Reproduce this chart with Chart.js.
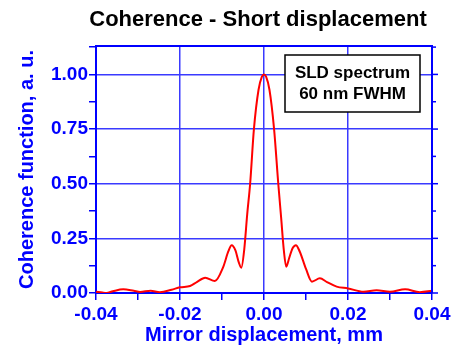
<!DOCTYPE html>
<html>
<head>
<meta charset="utf-8">
<script src="https://cdn.jsdelivr.net/npm/chart.js@4"></script>
<style>
  body { margin: 0; background: #fff; }
  #wrap { width: 464px; height: 345px; }
</style>
</head>
<body>
<div id="wrap"><canvas id="cohChart" width="464" height="345"></canvas></div>
<script>
// mirror displacement (mm) and coherence (a. u.)
const displacement = [
  -0.040, -0.0385, -0.0375, -0.036, -0.0335, -0.031, -0.0295, -0.027, -0.0248, -0.022,
  -0.020, -0.0176, -0.016, -0.014, -0.0117, -0.0097, -0.0085, -0.0077, -0.0068, -0.0060,
  -0.0054, -0.0047, -0.0040, -0.0033, -0.0024, -0.0013, -0.0005, 0.0, 0.0005, 0.0013,
  0.0024, 0.0034, 0.0041, 0.0047, 0.0053, 0.0060, 0.0068, 0.0076, 0.0085, 0.0100,
  0.0114, 0.0133, 0.0150, 0.0173, 0.0200, 0.0237, 0.0268, 0.0300, 0.0336, 0.0371, 0.0400
];
const coherence = [
  0.006, 0.002, 0.000, 0.008, 0.017, 0.010, 0.005, 0.010, 0.004, 0.015,
  0.026, 0.032, 0.050, 0.070, 0.055, 0.120, 0.190, 0.219, 0.195, 0.140,
  0.116, 0.200, 0.360, 0.500, 0.750, 0.930, 0.990, 1.000, 0.990, 0.930,
  0.750, 0.500, 0.340, 0.200, 0.120, 0.160, 0.205, 0.219, 0.190, 0.110,
  0.052, 0.067, 0.050, 0.029, 0.021, 0.006, 0.013, 0.006, 0.017, 0.004, 0.010
];
const chartTitle = 'Coherence - Short displacement';
const boxLines = ['SLD spectrum', '60 nm FWHM'];

const BLUE = '#0000ff';
const GRID = '#3a3aff';

const points = displacement.map((x, i) => ({ x: x, y: coherence[i] }));

const isMinorX = v => Math.abs(v * 50 - Math.round(v * 50)) > 1e-6;
const isMinorY = v => Math.abs(v * 4 - Math.round(v * 4)) > 1e-6;

// title, frame top/right and the text box
const extras = {
  id: 'extras',
  afterDraw(chart) {
    const { ctx, chartArea: a, scales } = chart;
    ctx.save();
    // frame
    ctx.strokeStyle = BLUE;
    ctx.lineWidth = 2;
    ctx.beginPath();
    ctx.moveTo(a.left, a.top);
    ctx.lineTo(a.right, a.top);
    ctx.lineTo(a.right, a.bottom);
    ctx.stroke();
    // small ticks on right side
    ctx.lineWidth = 1.5;
    scales.y.ticks.forEach(t => {
      const py = scales.y.getPixelForValue(t.value);
      ctx.beginPath();
      ctx.moveTo(a.right, py);
      ctx.lineTo(a.right + (isMinorY(t.value) ? 4 : 6), py);
      ctx.stroke();
    });
    // title
    ctx.fillStyle = '#000';
    ctx.font = 'bold 22px "Liberation Sans", Arial, sans-serif';
    ctx.textAlign = 'center';
    ctx.textBaseline = 'middle';
    ctx.fillText(chartTitle, 258, 20);
    // text box
    ctx.fillStyle = '#fff';
    ctx.fillRect(285, 55, 135, 57);
    ctx.strokeStyle = '#000';
    ctx.lineWidth = 1.5;
    ctx.strokeRect(285, 55, 135, 57);
    ctx.fillStyle = '#000';
    ctx.font = 'bold 17px "Liberation Sans", Arial, sans-serif';
    ctx.fillText(boxLines[0], 352.5, 73);
    ctx.fillText(boxLines[1], 352.5, 94);
    ctx.restore();
  }
};

new Chart(document.getElementById('cohChart').getContext('2d'), {
  type: 'line',
  data: {
    datasets: [{
      data: points,
      borderColor: '#ff0000',
      borderWidth: 2,
      pointRadius: 0,
      cubicInterpolationMode: 'monotone',
      fill: false
    }]
  },
  options: {
    responsive: false,
    animation: false,
    layout: { padding: { top: 46, right: 32, left: 0, bottom: 0 } },
    plugins: {
      legend: { display: false },
      tooltip: { enabled: false },
      title: { display: false }
    },
    scales: {
      x: {
        type: 'linear',
        min: -0.04,
        max: 0.04,
        afterFit: s => { s.height = 52; },
        ticks: {
          stepSize: 0.01,
          padding: 3,
          color: BLUE,
          maxRotation: 0,
          autoSkip: false,
          font: { family: '"Liberation Sans", Arial, sans-serif', size: 19, weight: 'bold' },
          callback: v => isMinorX(v) ? '' : v.toFixed(2)
        },
        grid: {
          color: c => isMinorX(c.tick.value) ? 'rgba(0,0,0,0)' : GRID,
          tickColor: BLUE,
          lineWidth: 1.5,
          tickLength: 7
        },
        border: { color: BLUE, width: 2 },
        title: {
          display: true,
          text: 'Mirror displacement, mm',
          color: BLUE,
          padding: { top: 0, bottom: 0 },
          font: { family: '"Liberation Sans", Arial, sans-serif', size: 20, weight: 'bold', lineHeight: 1 }
        }
      },
      y: {
        min: 0,
        max: 1.13,
        afterFit: s => { s.width = 96; },
        ticks: {
          stepSize: 0.125,
          includeBounds: false,
          padding: 1,
          color: BLUE,
          autoSkip: false,
          font: { family: '"Liberation Sans", Arial, sans-serif', size: 19, weight: 'bold' },
          callback: v => isMinorY(v) ? '' : v.toFixed(2)
        },
        grid: {
          color: c => isMinorY(c.tick.value) ? 'rgba(0,0,0,0)' : GRID,
          tickColor: BLUE,
          lineWidth: 1.5,
          tickLength: 7
        },
        border: { color: BLUE, width: 2 },
        title: {
          display: true,
          text: 'Coherence function, a. u.',
          color: BLUE,
          padding: { top: 17, bottom: 0 },
          font: { family: '"Liberation Sans", Arial, sans-serif', size: 20, weight: 'bold', lineHeight: 1 }
        }
      }
    }
  },
  plugins: [extras]
});
</script>
</body>
</html>
